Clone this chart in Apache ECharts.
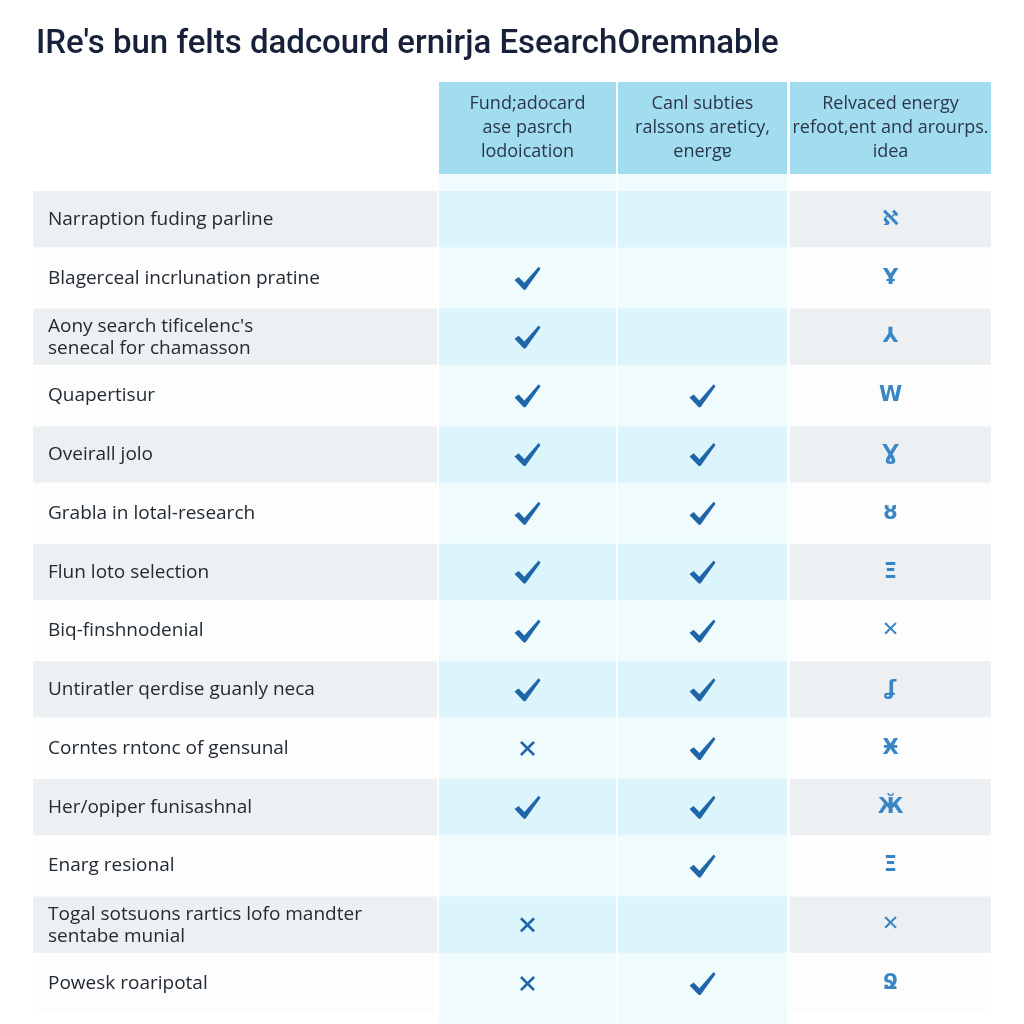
<!DOCTYPE html>
<html>
<head>
<meta charset="utf-8">
<script src="https://cdn.jsdelivr.net/npm/echarts@6/dist/echarts.min.js"></script>
<style>html,body{margin:0;padding:0;background:#fff}#c{width:1024px;height:1024px}</style>
</head>
<body>
<div id="c"></div>
<script>
// ---- data ----
const titleText = "IRe's bun felts dadcourd ernirja EsearchOremnable";
const headers = [
  "Fund;adocard\nase pasrch\nlodoication",
  "Canl subties\nralssons areticy,\nenergɐ",
  "Relvaced energy\nrefoot,ent and arourps.\nidea"
];
const rowLabels = [
  "Narraption fuding parline",
  "Blagerceal incrlunation pratine",
  "Aony search tificelenc's\nsenecal for chamasson",
  "Quapertisur",
  "Oveirall jolo",
  "Grabla in lotal-research",
  "Flun loto selection",
  "Biq-finshnodenial",
  "Untiratler qerdise guanly neca",
  "Corntes rntonc of gensunal",
  "Her/opiper funisashnal",
  "Enarg resional",
  "Togal sotsuons rartics lofo mandter\nsentabe munial",
  "Powesk roaripotal"
];
const col1Marks = ["", "check", "check", "check", "check", "check", "check", "check", "check", "cross", "check", "", "cross", "cross"];
const col2Marks = ["", "", "", "check", "check", "check", "check", "check", "check", "check", "check", "check", "", "check"];
const col3Glyphs = ["ℵ", "Ұ", "⅄", "W", "Ɣ", "ȣ", "Ξ", "✕", "ʆ", "Ӿ", "Ӂ", "Ξ", "✕", "Ջ"];

// ---- layout (pixels relative to table left) ----
const TABLE_W = 958;
const COL_X = [[0, 404], [406, 583], [585, 754], [757, 958]];
const CHECK_PATH = "path://M0,12 L3.6,9.6 L8.6,14.2 L21,1.5 L22.6,3.1 L9.6,19.6 L8,19.6 Z";
const CROSS_PATH = "path://M2,0 L8,6 L14,0 L16,2 L10,8 L16,14 L14,16 L8,10 L2,16 L0,14 L6,8 L0,2 Z";

const chart = echarts.init(document.getElementById('c'), null, {renderer: 'canvas'});

function markData(marks, col) {
  const cx = (COL_X[col][0] + COL_X[col][1]) / 2;
  const out = [];
  marks.forEach((m, i) => {
    if (!m) return;
    out.push({
      value: [cx, i],
      symbol: m === 'check' ? CHECK_PATH : CROSS_PATH,
      symbolSize: m === 'check' ? [26, 23] : [15, 15]
    });
  });
  return out;
}

const headerGraphics = [];
headers.forEach((h, j) => {
  const x0 = 33 + COL_X[j + 1][0], x1 = 33 + COL_X[j + 1][1];
  headerGraphics.push({
    type: 'rect', z: 0,
    shape: {x: x0, y: 82, width: x1 - x0, height: 92},
    style: {fill: '#a2ddef'}
  });
  headerGraphics.push({
    type: 'text', z: 2,
    x: (x0 + x1) / 2, y: 128,
    style: {
      text: h, fill: '#2a3747', font: '18px "Open Sans", sans-serif',
      textAlign: 'center', textVerticalAlign: 'middle', lineHeight: 24
    }
  });
});
// light cyan strips behind highlighted columns
[1, 2].forEach(j => {
  const x0 = 33 + COL_X[j][0], x1 = 33 + COL_X[j][1];
  headerGraphics.push({
    type: 'rect', z: -10,
    shape: {x: x0, y: 174, width: x1 - x0, height: 850},
    style: {fill: '#f0fbfe'}
  });
});

chart.setOption({
  backgroundColor: '#ffffff',
  animation: false,
  title: {
    text: titleText, left: 31, top: 23,
    textStyle: {fontFamily: 'Roboto', fontSize: 33, fontWeight: 500, color: '#17213a'}
  },
  graphic: headerGraphics,
  grid: {left: 33, width: TABLE_W, top: 190, height: 823},
  xAxis: {type: 'value', min: 0, max: TABLE_W, show: false},
  yAxis: {type: 'category', data: rowLabels.map((_, i) => i), inverse: true, show: false},
  series: [
    {
      type: 'custom', z: 1,
      data: rowLabels.map((_, i) => [0, i]),
      renderItem: function (params, api) {
        const i = api.value(1);
        const c = api.coord([0, i]);
        const band = api.size([0, 1])[1];
        const top = c[1] - band / 2 + 1;
        const h = band - 2.5;
        const shaded = i % 2 === 0;
        const children = COL_X.map((cx, j) => {
          const x0 = api.coord([cx[0], i])[0];
          const x1 = api.coord([cx[1], i])[0];
          let fill;
          if (j === 1 || j === 2) fill = shaded ? '#dcf4fb' : '#f0fbfe';
          else fill = shaded ? '#edf0f3' : '#fdfdfe';
          return {type: 'rect', shape: {x: x0, y: top, width: x1 - x0, height: h}, style: {fill: fill}};
        });
        return {type: 'group', children: children};
      }
    },
    {
      type: 'custom', z: 3,
      data: rowLabels.map((_, i) => [15, i]),
      renderItem: function (params, api) {
        const i = api.value(1);
        const p = api.coord([api.value(0), i]);
        return {
          type: 'text', x: p[0], y: p[1] + (rowLabels[i].indexOf('\n') >= 0 ? 1 : 0),
          style: {
            text: rowLabels[i], fill: '#222a33', font: '19px "Open Sans", sans-serif',
            textAlign: 'left', textVerticalAlign: 'middle', lineHeight: 22
          }
        };
      }
    },
    {
      type: 'scatter', z: 4, itemStyle: {color: '#1e66a8', opacity: 1},
      data: markData(col1Marks, 1)
    },
    {
      type: 'scatter', z: 4, itemStyle: {color: '#1e66a8', opacity: 1},
      data: markData(col2Marks, 2)
    },
    {
      type: 'custom', z: 4,
      data: col3Glyphs.map((g, i) => [(COL_X[3][0] + COL_X[3][1]) / 2, i]),
      renderItem: function (params, api) {
        const i = api.value(1);
        const p = api.coord([api.value(0), i]);
        return {
          type: 'text', x: p[0], y: p[1],
          style: {
            text: col3Glyphs[i], fill: '#3a86c4', font: 'bold 21px "DejaVu Sans", sans-serif',
            textAlign: 'center', textVerticalAlign: 'middle'
          }
        };
      }
    }
  ]
});
</script>
</body>
</html>
